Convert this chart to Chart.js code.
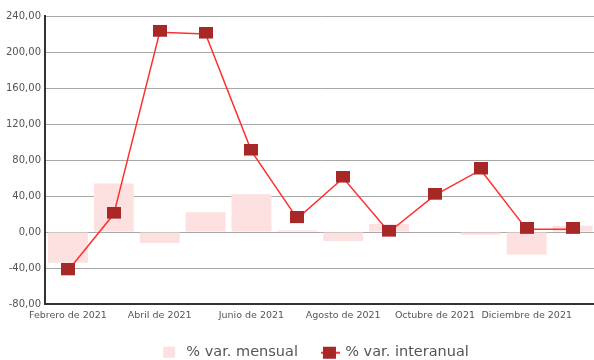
<!DOCTYPE html>
<html>
<head>
<meta charset="utf-8">
<script src="https://cdn.jsdelivr.net/npm/chart.js@4.4.1/dist/chart.umd.min.js"></script>
<style>
html,body{margin:0;padding:0;background:#fff;overflow:hidden;}
#wrap{width:604px;height:360px;position:relative;}
</style>
</head>
<body>
<div id="wrap"><canvas id="c"></canvas></div>
<script>
const categories = ["Febrero de 2021","Marzo de 2021","Abril de 2021","Mayo de 2021","Junio de 2021","Julio de 2021","Agosto de 2021","Septiembre de 2021","Octubre de 2021","Noviembre de 2021","Diciembre de 2021","Enero de 2022"];
const varMensual = [-34, 54, -12, 22, 42, 2, -10, 9, -0.5, -3, -25, 7];
const varInteranual = [-43, 20, 222, 220, 90, 15, 60, 0, 41, 69, 3, 3];
const seriesNames = ["% var. mensual", "% var. interanual"];

const BAR_COLOR = '#fde0e0';
const LINE_COLOR = '#ff3030';
const MARK_COLOR = '#a82828';

// square marker image (drawn slightly above its anchor, as in the reference)
const marker = document.createElement('canvas');
marker.width = 14; marker.height = 15;
(function(){ const g = marker.getContext('2d'); g.fillStyle = MARK_COLOR; g.fillRect(0, 0, 14, 12); })();

const LEGEND_DX = 13;
const LEGEND_DY = -7;
const legendPlugin = {
  id: 'legendFix',
  afterLayout(chart) {
    const lg = chart.legend;
    if (!lg) return;
    lg.left += LEGEND_DX;
    lg.right += LEGEND_DX;
    lg.top += LEGEND_DY;
    lg.bottom += LEGEND_DY;
  },
  afterDraw(chart) {
    const lg = chart.legend;
    if (!lg || !lg.legendHitBoxes || lg.legendHitBoxes.length < 2) return;
    const ctx = chart.ctx;
    const b0 = lg.legendHitBoxes[0];
    const b1 = lg.legendHitBoxes[1];
    const c0 = b0.top + b0.height / 2;
    const c1 = b1.top + b1.height / 2;
    ctx.save();
    ctx.fillStyle = BAR_COLOR;
    ctx.fillRect(b0.left, c0 - 5, 12, 11);
    ctx.strokeStyle = LINE_COLOR;
    ctx.lineWidth = 2;
    ctx.beginPath();
    ctx.moveTo(b1.left - 1, c1 + 1);
    ctx.lineTo(b1.left + 18, c1 + 1);
    ctx.stroke();
    ctx.fillStyle = MARK_COLOR;
    ctx.fillRect(b1.left + 1, c1 - 5, 13, 12);
    ctx.restore();
  }
};

new Chart(document.getElementById('c'), {
  data: {
    labels: categories,
    datasets: [
      {
        type: 'line',
        label: seriesNames[1],
        data: varInteranual,
        borderColor: LINE_COLOR,
        borderWidth: 1.5,
        backgroundColor: MARK_COLOR,
        pointStyle: marker,
        pointRadius: 7,
        pointHoverRadius: 7,
        tension: 0,
        order: 0
      },
      {
        type: 'bar',
        label: seriesNames[0],
        data: varMensual,
        backgroundColor: BAR_COLOR,
        borderWidth: 0,
        categoryPercentage: 1,
        barPercentage: 0.87,
        order: 1
      }
    ]
  },
  plugins: [legendPlugin],
  options: {
    responsive: true,
    maintainAspectRatio: false,
    animation: false,
    layout: { padding: { top: 16, right: 0, left: 2, bottom: -16 } },
    plugins: {
      tooltip: { enabled: false },
      legend: {
        position: 'bottom',
        labels: {
          color: '#555',
          font: { family: 'DejaVu Sans', size: 14.5 },
          boxWidth: 16,
          boxHeight: 12,
          padding: 24,
          generateLabels(chart) {
            return [
              { text: seriesNames[0], fillStyle: 'rgba(0,0,0,0)', strokeStyle: 'rgba(0,0,0,0)', lineWidth: 0, fontColor: '#555', datasetIndex: 1 },
              { text: seriesNames[1], fillStyle: 'rgba(0,0,0,0)', strokeStyle: 'rgba(0,0,0,0)', lineWidth: 0, fontColor: '#555', datasetIndex: 0 }
            ];
          }
        }
      }
    },
    scales: {
      x: {
        offset: true,
        grid: { display: false, drawTicks: false },
        border: { color: '#333', width: 2 },
        ticks: {
          autoSkip: false,
          maxRotation: 0,
          color: '#555',
          font: { family: 'DejaVu Sans', size: 9.5 },
          padding: 6,
          callback(v, i) { return i % 2 === 0 ? categories[i] : ''; }
        }
      },
      y: {
        min: -80,
        max: 240,
        grid: { color: '#a8a8a8', lineWidth: 1, drawTicks: false },
        border: { color: '#333', width: 2 },
        ticks: {
          stepSize: 40,
          color: '#555',
          font: { family: 'DejaVu Sans', size: 10 },
          padding: 4,
          callback(v) { return v.toFixed(2).replace('.', ','); }
        }
      }
    }
  }
});
</script>
</body>
</html>
